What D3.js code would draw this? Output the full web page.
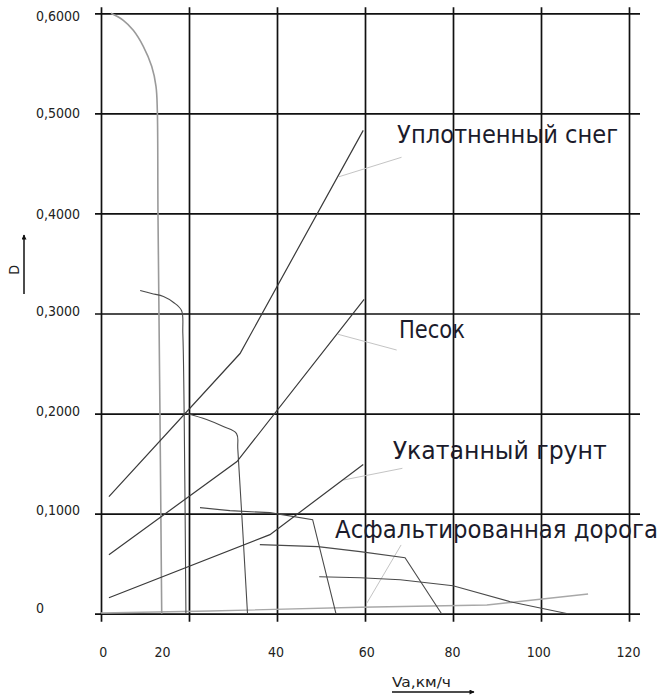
<!DOCTYPE html>
<html>
<head>
<meta charset="utf-8">
<script src="https://cdn.jsdelivr.net/npm/d3@7/dist/d3.min.js"></script>
<style>
  html, body { margin: 0; padding: 0; background: #fff; }
  svg { display: block; }
  text { font-family: "DejaVu Sans Condensed", "DejaVu Sans", sans-serif; font-stretch: condensed; }
</style>
</head>
<body>
<svg id="chart" width="661" height="696"></svg>
<script>
// ---- data ----
const xTicks = [0, 20, 40, 60, 80, 100, 120];
const yTicks = [0, 0.1, 0.2, 0.3, 0.4, 0.5, 0.6];
const xTickLabels = ["0", "20", "40", "60", "80", "100", "120"];
const xTickLabelAt = [0.5, 14.0, 39.8, 60.4, 79.9, 99.5, 119.9];
const yTickLabels = ["0", "0,1000", "0,2000", "0,3000", "0,4000", "0,5000", "0,6000"];
const yTickLabelAt = [0.006, 0.104, 0.203, 0.303, 0.399, 0.500, 0.597];

// dynamic characteristic by gear: [V, D]
const gear1 = [[2.27,0.600],[5.07,0.593],[7.34,0.583],[9.61,0.567],[11.52,0.547],[12.5,0.527],[12.8,0.503],[12.95,0.40],[13.4,0.20],[13.8,0.0]];
const gear2 = [[8.9,0.323],[11.5,0.320],[14.2,0.317],[16.5,0.311],[18.3,0.303],[18.6,0.28],[18.9,0.20],[19.3,0.0]];
const gear3 = [[19.5,0.200],[24.0,0.194],[27.8,0.187],[30.8,0.180],[31.1,0.164],[33.3,0.0]];
const gear4 = [[22.5,0.106],[29.3,0.103],[38.4,0.101],[48.1,0.094],[53.4,0.0]];
const gear5 = [[36.1,0.069],[49.3,0.067],[58.9,0.062],[69.1,0.056],[77.4,0.0]];
const gear6 = [[49.6,0.037],[58.9,0.036],[68.0,0.034],[80.0,0.028],[93.0,0.012],[106.1,0.0]];

// road resistance coefficient psi for each surface: [V, psi]
const psiSnow    = [[1.8,0.117],[31.6,0.260],[59.6,0.483]];
const psiSand    = [[1.8,0.059],[30.9,0.152],[59.8,0.314]];
const psiGround  = [[1.8,0.016],[38.4,0.079],[59.6,0.149]];
const psiAsphalt = [[0.0,0.0007],[24.8,0.0027],[58.9,0.0064],[87.7,0.0087],[110.7,0.0197]];

const surfaceNames = ["Уплотненный снег", "Песок", "Укатанный грунт", "Асфальтированная дорога"];
// label anchor (V, D) and leader line (from, to) in data units
const labelAt  = [[67.3,0.4708],[67.7,0.2758],[66.3,0.1543],[53.2,0.0757]];
const leaderFrom = [[54.1,0.4367],[53.9,0.2792],[55.1,0.1336],[60.4,0.0104]];
const leaderTo   = [[68.3,0.4561],[67.2,0.2635],[68.5,0.1453],[68.2,0.0687]];

const xTitle = "Va,км/ч";
const yTitle = "D";

// ---- drawing ----
const svg = d3.select("#chart");
const x = d3.scaleLinear().domain([0, 120]).range([101, 629]);
const y = d3.scaleLinear().domain([0, 0.6]).range([613.7, 13.3]);

const defs = svg.append("defs");
defs.append("marker").attr("id", "arr").attr("viewBox", "0 0 10 10")
  .attr("refX", 9).attr("refY", 5).attr("markerWidth", 7).attr("markerHeight", 5)
  .attr("markerUnits", "userSpaceOnUse").attr("orient", "auto")
  .append("path").attr("d", "M0,0 L10,5 L0,10 z").attr("fill", "#111");

// grid via axes
const gridV = d3.axisBottom(x).tickValues(xTicks).tickFormat("")
  .tickSize(-(y(0) - y(0.6)) - 14).tickSizeOuter(0);
svg.append("g").attr("transform", `translate(0,${y(0) + 8})`).call(gridV)
  .call(g => g.select(".domain").remove())
  .call(g => g.selectAll("line").attr("stroke", "#111").attr("stroke-width", 1.7));

const gridH = d3.axisLeft(y).tickValues(yTicks).tickFormat("")
  .tickSize(-(x(120) - x(0)) - 17).tickSizeOuter(0);
svg.append("g").attr("transform", `translate(${x(0) - 6},0)`).call(gridH)
  .call(g => g.select(".domain").remove())
  .call(g => g.selectAll("line").attr("stroke", "#111").attr("stroke-width", 1.7));

// tick labels
svg.append("g").selectAll("text").data(yTickLabels).join("text")
  .attr("x", 36).attr("y", (d, i) => y(yTickLabelAt[i]))
  .attr("dy", "0.36em").attr("font-size", 14).attr("fill", "#222")
  .text(d => d);

svg.append("g").selectAll("text").data(xTickLabels).join("text")
  .attr("x", (d, i) => x(xTickLabelAt[i])).attr("y", 657)
  .attr("text-anchor", "middle").attr("font-size", 14).attr("fill", "#222")
  .text(d => d);

// curves
const line = d3.line().x(d => x(d[0])).y(d => y(d[1]));
const smooth = d3.line().x(d => x(d[0])).y(d => y(d[1])).curve(d3.curveCatmullRom.alpha(0.5));

// leaders (light)
leaderFrom.forEach((f, i) => {
  svg.append("path").attr("d", line([f, leaderTo[i]]))
    .attr("fill", "none").attr("stroke", "#c4c4c4").attr("stroke-width", 1);
});

svg.append("path").attr("d", line(psiAsphalt)).attr("fill", "none").attr("stroke", "#a8a8a8").attr("stroke-width", 1.4);

svg.append("path").attr("d", smooth(gear1)).attr("fill", "none").attr("stroke", "#9a9a9a").attr("stroke-width", 1.6);
[gear2, gear3].forEach(g => {
  svg.append("path").attr("d", smooth(g)).attr("fill", "none").attr("stroke", "#4a4a4a").attr("stroke-width", 1.1);
});
[gear4, gear5, gear6].forEach(g => {
  svg.append("path").attr("d", line(g)).attr("fill", "none").attr("stroke", "#4a4a4a").attr("stroke-width", 1.1);
});
[psiSnow, psiSand, psiGround].forEach(g => {
  svg.append("path").attr("d", line(g)).attr("fill", "none").attr("stroke", "#3a3a3a").attr("stroke-width", 1.2);
});

// surface labels
const labelWidths = [221, 66, 214, 323];
svg.append("g").selectAll("text").data(surfaceNames).join("text")
  .attr("x", (d, i) => x(labelAt[i][0])).attr("y", (d, i) => y(labelAt[i][1]))
  .attr("font-size", 25).attr("fill", "#1b1b2b")
  .attr("textLength", (d, i) => labelWidths[i]).attr("lengthAdjust", "spacingAndGlyphs")
  .text(d => d);

// axis titles with arrows
svg.append("text").attr("transform", "translate(19,270) rotate(-90)")
  .attr("text-anchor", "middle").attr("font-size", 14).attr("fill", "#222").text(yTitle);
svg.append("line").attr("x1", 24).attr("y1", 294).attr("x2", 24).attr("y2", 235)
  .attr("stroke", "#111").attr("stroke-width", 1.5).attr("marker-end", "url(#arr)");

svg.append("text").attr("x", 392).attr("y", 687).attr("font-size", 14).attr("fill", "#222")
  .attr("textLength", 59).attr("lengthAdjust", "spacingAndGlyphs").text(xTitle);
svg.append("line").attr("x1", 392).attr("y1", 692).attr("x2", 474).attr("y2", 692)
  .attr("stroke", "#111").attr("stroke-width", 1.3).attr("marker-end", "url(#arr)");
</script>
</body>
</html>
